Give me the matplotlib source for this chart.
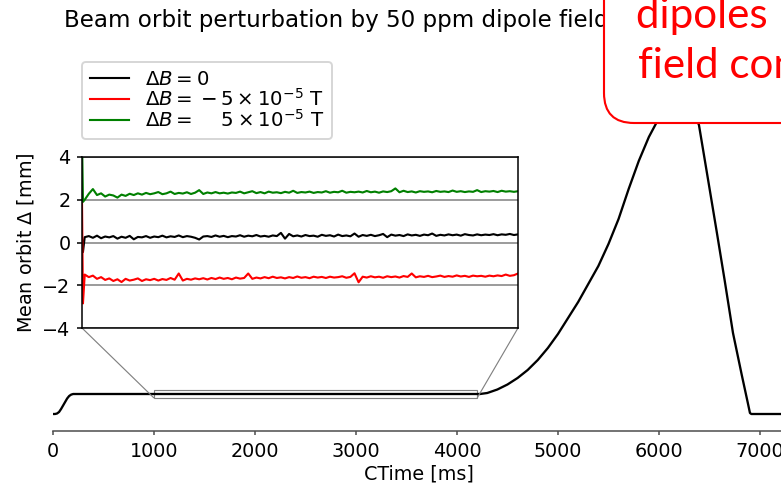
import numpy as np
import matplotlib
matplotlib.use('Agg')
from matplotlib import pyplot as plt
from matplotlib.patches import FancyBboxPatch
from matplotlib.transforms import IdentityTransform
from mpl_toolkits.axes_grid1.inset_locator import mark_inset

# main magnet cycle (arbitrary units, injection plateau = 0)
ctime = [0, 20, 40, 60, 80, 100, 120, 140, 160, 180, 200, 4228, 4300, 4400,
         4500, 4600, 4700, 4800, 4900, 5000, 5100, 5200, 5300, 5400, 5500,
         5600, 5700, 5800, 5900, 6000, 6100, 6200, 6300, 6396, 6500, 6574,
         6650, 6733, 6820, 6880, 6901, 6915, 7300]
level = [-20, -20, -19.5, -18, -15, -11.5, -8, -4.5, -2, -0.6, 0, 0, 1, 4.5,
         9.5, 16, 24, 34, 46, 60, 76, 92, 110, 128, 150,
         175, 205, 233, 257, 276, 290, 298, 292, 269, 206, 161,
         114, 61, 19, -9, -19, -20, -20]

# mean orbit during injection plateau [mm]
t_start = [1000, 1007]
green_start = [5.0, 1.9]
black_start = [0.3, -0.45]
red_start = [2.0, -2.85]

t_step = 30
t_first = 1020
green = [2.00, 2.28, 2.50, 2.22, 2.30, 2.15, 2.24, 2.20, 2.10, 2.24,
         2.18, 2.28, 2.22, 2.30, 2.24, 2.32, 2.26, 2.30, 2.36, 2.26,
         2.30, 2.38, 2.27, 2.32, 2.29, 2.35, 2.27, 2.33, 2.45, 2.27,
         2.34, 2.30, 2.36, 2.30, 2.33, 2.29, 2.34, 2.32, 2.38, 2.30,
         2.35, 2.40, 2.31, 2.36, 2.30, 2.38, 2.33, 2.35, 2.31, 2.37,
         2.33, 2.42, 2.32, 2.36, 2.34, 2.38, 2.32, 2.36, 2.34, 2.40,
         2.33, 2.37, 2.35, 2.42, 2.33, 2.37, 2.35, 2.38, 2.34, 2.41,
         2.35, 2.38, 2.33, 2.39, 2.36, 2.40, 2.53, 2.35, 2.42, 2.36,
         2.39, 2.34, 2.40, 2.37, 2.39, 2.35, 2.41, 2.37, 2.39, 2.36,
         2.43, 2.37, 2.40, 2.36, 2.39, 2.37, 2.45, 2.36, 2.40, 2.38,
         2.41, 2.36, 2.42, 2.38, 2.40, 2.37, 2.40]
black = [0.25, 0.30, 0.22, 0.32, 0.20, 0.28, 0.24, 0.30, 0.18, 0.27,
         0.22, 0.31, 0.15, 0.26, 0.24, 0.30, 0.22, 0.28, 0.25, 0.32,
         0.24, 0.29, 0.26, 0.33, 0.25, 0.30, 0.27, 0.22, 0.14, 0.28,
         0.30, 0.26, 0.33, 0.27, 0.31, 0.25, 0.30, 0.28, 0.34, 0.27,
         0.32, 0.29, 0.35, 0.28, 0.31, 0.27, 0.33, 0.30, 0.45, 0.18,
         0.40, 0.29, 0.33, 0.28, 0.35, 0.30, 0.32, 0.27, 0.36, 0.31,
         0.34, 0.28, 0.37, 0.30, 0.33, 0.29, 0.42, 0.27, 0.35, 0.31,
         0.36, 0.30, 0.34, 0.40, 0.25, 0.37, 0.32, 0.35, 0.30, 0.38,
         0.33, 0.36, 0.31, 0.37, 0.34, 0.42, 0.31, 0.36, 0.33, 0.38,
         0.34, 0.37, 0.32, 0.39, 0.35, 0.33, 0.38, 0.34, 0.37, 0.35,
         0.39, 0.34, 0.38, 0.36, 0.40, 0.35, 0.38]
red = [-1.50, -1.62, -1.55, -1.70, -1.62, -1.75, -1.68, -1.80, -1.72, -1.85,
       -1.70, -1.78, -1.74, -1.68, -1.80, -1.72, -1.76, -1.70, -1.78, -1.71,
       -1.75, -1.66, -1.74, -1.45, -1.78, -1.70, -1.74, -1.68, -1.72, -1.67,
       -1.73, -1.66, -1.71, -1.64, -1.70, -1.66, -1.72, -1.64, -1.69, -1.66,
       -1.45, -1.70, -1.64, -1.68, -1.62, -1.67, -1.60, -1.66, -1.63, -1.68,
       -1.62, -1.66, -1.59, -1.65, -1.62, -1.67, -1.60, -1.64, -1.61, -1.66,
       -1.60, -1.64, -1.62, -1.58, -1.65, -1.61, -1.44, -1.86, -1.60, -1.64,
       -1.58, -1.63, -1.60, -1.65, -1.58, -1.62, -1.59, -1.64, -1.57, -1.61,
       -1.45, -1.63, -1.58, -1.61, -1.56, -1.62, -1.59, -1.55, -1.61, -1.57,
       -1.60, -1.54, -1.59, -1.56, -1.61, -1.55, -1.58, -1.56, -1.60, -1.55,
       -1.58, -1.54, -1.57, -1.50, -1.56, -1.53, -1.45]

labels = [r'$\Delta B = 0$',
          r'$\Delta B = {}-5\times10^{-5}$ T',
          r'$\Delta B = {}\quad\;5\times10^{-5}$ T']

W, H = 781, 485
dpi = 138
fig = plt.figure(figsize=(W / dpi, H / dpi), dpi=dpi)

ax = fig.add_axes([53 / W, (H - 431) / H, 732 / W, (431 - 40) / H])
ax.plot(ctime, level, color='k', lw=1.2)
ax.set_xlim(0, 7248)
ax.set_ylim(-37, 354)
ax.set_xticks(range(0, 8000, 1000))
ax.set_yticks([])
for s in ['left', 'top', 'right']:
    ax.spines[s].set_visible(False)
ax.spines['bottom'].set_color('0.3')
ax.tick_params(axis='x', length=2, color='0.3')
ax.set_xlabel('CTime [ms]', labelpad=2)

axins = fig.add_axes([82 / W, (H - 328) / H, 436 / W, 171 / H])
t_orbit = list(t_first + t_step * np.arange(len(green)))
axins.plot(t_start + t_orbit, black_start + black, color='k', lw=1.1, label=labels[0])
axins.plot(t_start + t_orbit, red_start + red, color='red', lw=1.1, label=labels[1])
axins.plot(t_start + t_orbit, green_start + green, color='green', lw=1.1, label=labels[2])
axins.set_xlim(1000, 4200)
axins.set_ylim(-4, 4)
axins.set_yticks([-4, -2, 0, 2, 4])
axins.set_xticks([])
axins.tick_params(axis='y', length=2.5)
axins.grid(axis='y', color='0.6', lw=1)
axins.set_axisbelow(True)
axins.set_ylabel(r'Mean orbit $\Delta$ [mm]', labelpad=3)
axins.legend(loc='upper left', bbox_to_anchor=(82 / W, 1 - 62 / H),
             bbox_transform=fig.transFigure, borderaxespad=0,
             labelspacing=-0.05, fontsize=10.3)
mark_inset(ax, axins, loc1=3, loc2=4, fc='none', ec='0.5', lw=0.6)

fig.text(64 / W, 1 - 27 / H, 'Beam orbit perturbation by 50 ppm dipole field error',
         fontsize=12, va='baseline')

box = FancyBboxPatch((604, H - 123), 400, 300, boxstyle='round,pad=0,rounding_size=30',
                     transform=IdentityTransform(), fc='white', ec='red', lw=1.1, zorder=10)
fig.add_artist(box)
fig.text(636 / W, 1 - 28 / H, 'dipoles have', color='red', fontsize=22,
         family='Lato', va='baseline', zorder=11)
fig.text(638 / W, 1 - 78 / H, 'field control', color='red', fontsize=22,
         family='Lato', va='baseline', zorder=11)

fig.savefig('out.png', dpi=dpi)
